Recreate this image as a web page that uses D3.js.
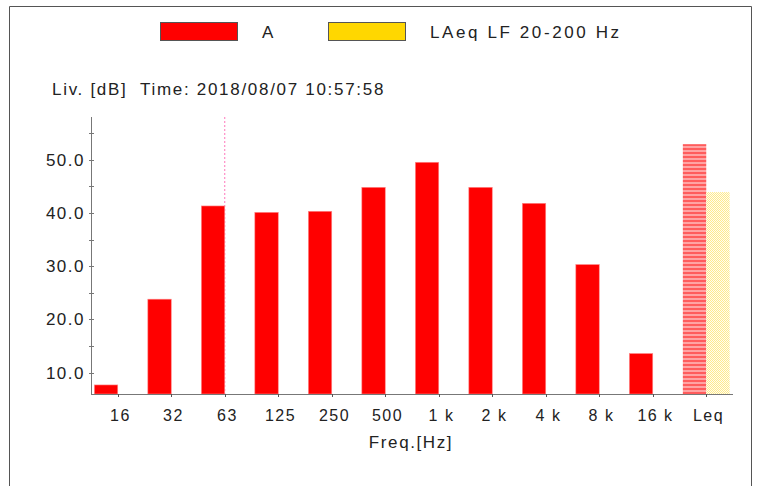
<!DOCTYPE html>
<html>
<head>
<meta charset="utf-8">
<script src="https://d3js.org/d3.v7.min.js"></script>
<style>
	body { margin: 0; background: #fff; }
	svg text { font-family: "Liberation Sans", Arial, sans-serif; fill: #222; }
</style>
</head>
<body>
<script>
	// data
	var bands = ["16", "32", "63", "125", "250", "500", "1 k", "2 k", "4 k", "8 k", "16 k", "Leq"];
	var levelA = [7.7, 23.8, 41.3, 40.1, 40.3, 44.8, 49.5, 44.8, 41.8, 30.3, 13.6, 52.9];
	var levelLF = [null, null, null, null, null, null, null, null, null, null, null, 43.9];
	var yTicks = [10, 20, 30, 40, 50];
	var yMinor = [15, 25, 35, 45, 55];
	var seriesNames = ["A", "LAeq LF 20-200 Hz"];
	var markerBand = "63";

	var w = 758, h = 486;
	var svg = d3.select("body").append("svg")
		.attr("width", w)
		.attr("height", h);

	// patterns for the Leq bars
	var defs = svg.append("defs");
	var pA = defs.append("pattern").attr("id", "stripeA")
		.attr("patternUnits", "userSpaceOnUse").attr("width", 4).attr("height", 4);
	pA.append("rect").attr("width", 4).attr("height", 4).attr("fill", "#ffa3a3");
	pA.append("rect").attr("width", 4).attr("height", 2).attr("fill", "#ff5c5c");
	var pL = defs.append("pattern").attr("id", "hatchLF")
		.attr("patternUnits", "userSpaceOnUse").attr("width", 2).attr("height", 2);
	pL.append("rect").attr("width", 2).attr("height", 2).attr("fill", "#fffdf0");
	pL.append("rect").attr("width", 1).attr("height", 1).attr("fill", "#ffea8c");
	pL.append("rect").attr("x", 1).attr("y", 1).attr("width", 1).attr("height", 1).attr("fill", "#ffea8c");

	// frame
	svg.append("path")
		.attr("d", "M9.5," + h + "V6.5H751.5V" + h)
		.attr("fill", "none")
		.attr("stroke", "#555")
		.attr("stroke-width", 1);

	// legend
	var legColors = ["#ff0000", "#ffd700"];
	var legX = [160, 328];
	seriesNames.forEach(function(name, i) {
		svg.append("rect")
			.attr("x", legX[i] + 0.5).attr("y", 22.5)
			.attr("width", 77).attr("height", 18)
			.attr("fill", legColors[i])
			.attr("stroke", "#555");
		svg.append("text")
			.attr("x", legX[i] + 102).attr("y", 38)
			.attr("font-size", 17)
			.attr("letter-spacing", 2.6)
			.text(name);
	});

	svg.append("text")
		.attr("x", 52).attr("y", 95)
		.attr("font-size", 17)
		.attr("letter-spacing", 1.7)
		.attr("xml:space", "preserve")
		.text("Liv. [dB]  Time: 2018/08/07 10:57:58");

	// scales
	var x = d3.scaleBand()
		.domain(bands)
		.range([91, 733])
		.paddingInner(0.125)
		.paddingOuter(0.0625);
	var sub = d3.scaleBand()
		.domain(["A", "LF"])
		.range([0, x.bandwidth()]);
	var y = d3.scaleLinear()
		.domain([6, 58])
		.range([394, 117]);

	// marker line at 63 Hz
	svg.append("line")
		.attr("x1", x(markerBand) + x.bandwidth() / 2)
		.attr("x2", x(markerBand) + x.bandwidth() / 2)
		.attr("y1", 117).attr("y2", 394)
		.attr("stroke", "#ff77bb")
		.attr("stroke-width", 1)
		.attr("stroke-dasharray", "2,2");

	// bars
	bands.forEach(function(b, i) {
		var isLeq = (b == "Leq");
		if (levelA[i] != null) {
			svg.append("rect")
				.attr("x", x(b) + sub("A"))
				.attr("y", y(levelA[i]))
				.attr("width", sub.bandwidth())
				.attr("height", y(6) - y(levelA[i]))
				.attr("fill", isLeq ? "url(#stripeA)" : "#ff0000")
				.attr("stroke", isLeq ? "none" : "#ff8a8a")
				.attr("stroke-width", 0.6);
		}
		if (levelLF[i] != null) {
			svg.append("rect")
				.attr("x", x(b) + sub("LF"))
				.attr("y", y(levelLF[i]))
				.attr("width", sub.bandwidth())
				.attr("height", y(6) - y(levelLF[i]))
				.attr("fill", "url(#hatchLF)");
		}
	});

	// y axis
	var yAxis = svg.append("g").attr("transform", "translate(91,0)");
	yAxis.append("line")
		.attr("x1", 0.5).attr("x2", 0.5)
		.attr("y1", 117).attr("y2", 394)
		.attr("stroke", "#777");
	yTicks.concat(yMinor).forEach(function(t) {
		yAxis.append("line")
			.attr("x1", -2).attr("x2", 3)
			.attr("y1", Math.round(y(t)) + 0.5).attr("y2", Math.round(y(t)) + 0.5)
			.attr("stroke", "#777");
	});
	yTicks.forEach(function(t) {
		yAxis.append("text")
			.attr("x", -6).attr("y", y(t) + 6)
			.attr("text-anchor", "end")
			.attr("font-size", 17)
			.attr("letter-spacing", 1.5)
			.text(d3.format(".1f")(t));
	});

	// x axis
	var xAxis = svg.append("g");
	xAxis.append("line")
		.attr("x1", 91).attr("x2", 733)
		.attr("y1", 394.5).attr("y2", 394.5)
		.attr("stroke", "#777");
	bands.forEach(function(b) {
		var cx = Math.round(x(b) + x.bandwidth() / 2) + 0.5;
		xAxis.append("line")
			.attr("x1", cx).attr("x2", cx)
			.attr("y1", 394).attr("y2", 397)
			.attr("stroke", "#555");
		xAxis.append("text")
			.attr("x", cx + 2).attr("y", 421)
			.attr("text-anchor", "middle")
			.attr("font-size", 16)
			.attr("letter-spacing", 1.5)
			.attr("xml:space", "preserve")
			.text(b);
	});
	svg.append("text")
		.attr("x", 411).attr("y", 448)
		.attr("text-anchor", "middle")
		.attr("font-size", 17)
		.attr("letter-spacing", 1.6)
		.text("Freq.[Hz]");
</script>
</body>
</html>
